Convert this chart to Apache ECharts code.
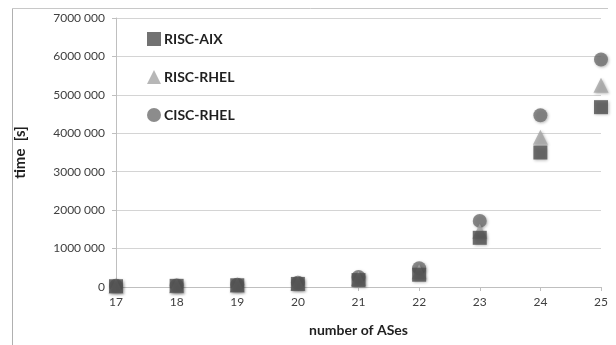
<!DOCTYPE html>
<html>
<head>
<meta charset="utf-8">
<script src="https://cdn.jsdelivr.net/npm/echarts@6/dist/echarts.min.js"></script>
<style>
  html, body { margin: 0; padding: 0; background: #fff; }
  #chart { width: 616px; height: 345px; }
</style>
</head>
<body>
<div id="chart"></div>
<script>
// Number of ASes on the x axis
const asCounts = [17, 18, 19, 20, 21, 22, 23, 24, 25];
// Run time in seconds per platform
const riscAix  = [20000, 30000, 45000, 80000, 180000, 320000, 1280000, 3500000, 4680000];
const riscRhel = [25000, 35000, 50000, 95000, 220000, 400000, 1450000, 3900000, 5250000];
const ciscRhel = [30000, 40000, 60000, 110000, 260000, 490000, 1720000, 4470000, 5920000];
const seriesNames = ['RISC-AIX', 'RISC-RHEL', 'CISC-RHEL'];

const FONT = 'Lato, "Open Sans", sans-serif';

function pairs(vals) {
  return asCounts.map((x, i) => [x, vals[i]]);
}

const shadow = {
  shadowBlur: 3,
  shadowColor: 'rgba(0,0,0,0.35)',
  shadowOffsetX: 1,
  shadowOffsetY: 1
};

const chart = echarts.init(document.getElementById('chart'), null, { renderer: 'canvas' });
chart.setOption({
  animation: false,
  backgroundColor: '#fff',
  textStyle: { fontFamily: FONT },
  graphic: [
    { type: 'line', shape: { x1: 12.5, y1: 8.5, x2: 608, y2: 8.5 }, style: { stroke: '#c8c8c8', lineWidth: 1 } },
    { type: 'line', shape: { x1: 12.5, y1: 8.5, x2: 12.5, y2: 345 }, style: { stroke: '#b0b0b0', lineWidth: 1 } }
  ],
  grid: { left: 116, right: 15, top: 18, bottom: 58 },
  legend: {
    data: seriesNames,
    orient: 'vertical',
    left: 142,
    top: 27,
    itemWidth: 14,
    itemHeight: 14,
    itemGap: 24,
    textStyle: { fontFamily: FONT, fontWeight: 'bold', fontSize: 14, color: '#1f1f1f', padding: [0, 0, 0, -2] }
  },
  xAxis: {
    type: 'value',
    min: 17,
    max: 25,
    interval: 1,
    name: 'number of ASes',
    nameLocation: 'middle',
    nameGap: 36,
    nameTextStyle: { fontFamily: FONT, fontWeight: 'bold', fontSize: 14, color: '#1f1f1f' },
    axisLine: { show: true, lineStyle: { color: '#bfbfbf', width: 1 } },
    axisTick: { show: true, length: 4, lineStyle: { color: '#bfbfbf' } },
    splitLine: { show: false },
    axisLabel: { fontFamily: FONT, fontSize: 12, color: '#404040', margin: 9 }
  },
  yAxis: {
    type: 'value',
    min: 0,
    max: 7000000,
    interval: 1000000,
    name: 'time  [s]',
    nameLocation: 'middle',
    nameGap: 88,
    nameTextStyle: { fontFamily: FONT, fontWeight: 'bold', fontSize: 15, color: '#1f1f1f' },
    axisLine: { show: true, lineStyle: { color: '#bfbfbf', width: 1 } },
    axisTick: { show: true, length: 4, lineStyle: { color: '#bfbfbf' } },
    splitLine: { show: true, lineStyle: { color: '#d4d4d4', width: 1 } },
    axisLabel: {
      fontFamily: FONT, fontSize: 12, color: '#404040', margin: 11,
      formatter: v => v === 0 ? '0' : (v / 1000) + ' 000'
    }
  },
  series: [
    {
      name: 'CISC-RHEL', type: 'scatter', symbol: 'circle', symbolSize: 14, z: 2,
      data: pairs(ciscRhel),
      itemStyle: Object.assign({ color: '#6f6f6f' }, shadow)
    },
    {
      name: 'RISC-RHEL', type: 'scatter', symbol: 'triangle', symbolSize: 15, z: 3,
      data: pairs(riscRhel),
      itemStyle: Object.assign({ color: '#a5a5a5' }, shadow)
    },
    {
      name: 'RISC-AIX', type: 'scatter', symbol: 'rect', symbolSize: 14, z: 4,
      data: pairs(riscAix),
      itemStyle: Object.assign({ color: '#4f4f4f' }, shadow)
    }
  ]
});
</script>
</body>
</html>
